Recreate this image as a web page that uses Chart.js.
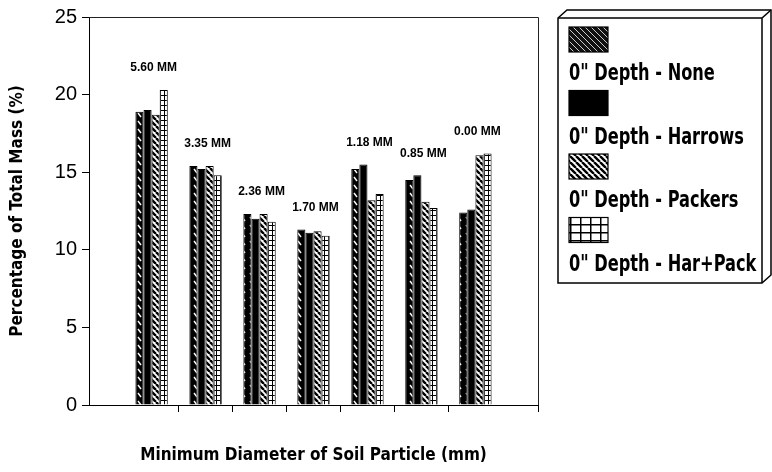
<!DOCTYPE html>
<html lang="en">
<head>
  <meta charset="UTF-8">
  <title>Soil Particle Size Distribution</title>
  <script src="https://cdn.jsdelivr.net/npm/chart.js"></script>
  <style>
    body { margin: 0; background: #fff; }
    #wrap { width: 772px; height: 472px; }
  </style>
</head>
<body>
  <div id="wrap"><canvas id="myChart" width="772" height="472"></canvas></div>
  <script>
    // Chart data
    const categories = ['5.60 MM', '3.35 MM', '2.36 MM', '1.70 MM', '1.18 MM', '0.85 MM', '0.00 MM'];
    const seriesNames = ['0" Depth - None', '0" Depth - Harrows', '0" Depth - Packers', '0" Depth - Har+Pack'];
    const noneVals = [18.9, 15.4, 12.3, 11.3, 15.2, 14.5, 12.4];
    const harrowsVals = [19.0, 15.2, 12.0, 11.1, 15.5, 14.8, 12.6];
    const packersVals = [18.7, 15.4, 12.3, 11.2, 13.2, 13.1, 16.1];
    const harPackVals = [20.3, 14.8, 11.8, 10.9, 13.6, 12.7, 16.2];
    const yTicks = [0, 5, 10, 15, 20, 25];

    const condensed = '"DejaVu Sans Condensed", "DejaVu Sans", sans-serif';

    // small helper to build a fill pattern from a tile
    function makePattern(w, h, draw) {
      const c = document.createElement('canvas');
      c.width = w;
      c.height = h;
      const g = c.getContext('2d');
      draw(g, w, h);
      return g.createPattern(c, 'repeat');
    }

    // hatched dark (bars): black with short white dashes
    const nonePattern = makePattern(8, 8, (g, w, h) => {
      g.fillStyle = '#000';
      g.fillRect(0, 0, w, h);
      g.strokeStyle = '#fff';
      g.lineWidth = 1.4;
      g.beginPath();
      g.moveTo(2, 1);
      g.lineTo(5, 5);
      g.stroke();
    });
    // legend version: thin light diagonals
    const noneLegendPattern = makePattern(6, 6, (g, w, h) => {
      g.fillStyle = '#111';
      g.fillRect(0, 0, w, h);
      g.strokeStyle = '#ccc';
      g.lineWidth = 1;
      g.beginPath();
      for (let o = -6; o <= 6; o += 6) {
        g.moveTo(o, 0);
        g.lineTo(o + 6, 6);
      }
      g.stroke();
    });
    const stripePattern = makePattern(6, 6, (g, w, h) => {
      g.fillStyle = '#fff';
      g.fillRect(0, 0, w, h);
      g.strokeStyle = '#000';
      g.lineWidth = 2.4;
      g.beginPath();
      for (let o = -6; o <= 6; o += 6) {
        g.moveTo(o, 0);
        g.lineTo(o + 6, 6);
      }
      g.stroke();
    });
    const gridPattern = makePattern(4, 5, (g, w, h) => {
      g.fillStyle = '#fff';
      g.fillRect(0, 0, w, h);
      g.fillStyle = '#000';
      g.fillRect(0, 0, w, 1);
      g.fillRect(0, 0, 1, h);
    });
    const gridLegendPattern = makePattern(10, 8, (g, w, h) => {
      g.fillStyle = '#fff';
      g.fillRect(0, 0, w, h);
      g.fillStyle = '#000';
      g.fillRect(0, 0, w, 1.5);
      g.fillRect(0, 0, 1.5, h);
    });

    const barFills = [nonePattern, '#000', stripePattern, gridPattern];
    const legendFills = [noneLegendPattern, '#000', stripePattern, gridLegendPattern];
    const allVals = [noneVals, harrowsVals, packersVals, harPackVals];

    // labels like "5.60 MM" above each group
    const groupLabels = {
      id: 'groupLabels',
      afterDatasetsDraw(chart) {
        const {ctx, scales: {x, y}} = chart;
        ctx.save();
        ctx.font = 'bold 12px "Liberation Sans", Arial, sans-serif';
        ctx.fillStyle = '#000';
        ctx.textAlign = 'center';
        ctx.textBaseline = 'middle';
        categories.forEach((cat, i) => {
          const top = Math.max(...allVals.map(v => v[i]));
          ctx.fillText(cat, x.getPixelForValue(i) + 2, y.getPixelForValue(top) - 22);
        });
        ctx.restore();
      }
    };

    // top / right frame of the plot area
    const frame = {
      id: 'frame',
      afterDraw(chart) {
        const {ctx, chartArea: a} = chart;
        ctx.save();
        ctx.strokeStyle = '#222';
        ctx.lineWidth = 1;
        ctx.beginPath();
        ctx.moveTo(a.left, a.top + 0.5);
        ctx.lineTo(a.right + 0.5, a.top + 0.5);
        ctx.lineTo(a.right + 0.5, a.bottom);
        ctx.stroke();
        ctx.restore();
      }
    };

    // boxed legend with a little 3D edge, text under each swatch
    const boxLegend = {
      id: 'boxLegend',
      afterDraw(chart) {
        const ctx = chart.ctx;
        const L = 558, T = 18, R = 762, B = 283, d = 9;
        ctx.save();
        ctx.strokeStyle = '#000';
        ctx.lineWidth = 1.5;
        ctx.fillStyle = '#fff';
        ctx.beginPath();
        ctx.moveTo(L, T);
        ctx.lineTo(L + d, T - d + 1);
        ctx.lineTo(R + d, T - d + 1);
        ctx.lineTo(R + d, B - d + 1);
        ctx.lineTo(R, B);
        ctx.lineTo(L, B);
        ctx.closePath();
        ctx.fill();
        ctx.stroke();
        ctx.beginPath();
        ctx.moveTo(L, T);
        ctx.lineTo(R, T);
        ctx.lineTo(R + d, T - d + 1);
        ctx.moveTo(R, T);
        ctx.lineTo(R, B);
        ctx.stroke();

        ctx.font = 'bold 18px ' + condensed;
        ctx.textBaseline = 'alphabetic';
        ctx.textAlign = 'left';
        seriesNames.forEach((name, i) => {
          const sy = 27 + i * 63.5;
          ctx.fillStyle = legendFills[i];
          ctx.fillRect(569, sy, 39, 25);
          ctx.lineWidth = 1.2;
          ctx.strokeRect(569, sy, 39, 25);
          ctx.fillStyle = '#000';
          // the printed legend uses a tall, narrow face: stretch vertically
          ctx.save();
          ctx.translate(569, sy + 53);
          ctx.scale(1, 1.3);
          ctx.fillText(name, 0, 0);
          ctx.restore();
        });
        ctx.restore();
      }
    };

    const ctx = document.getElementById('myChart').getContext('2d');

    const myChart = new Chart(ctx, {
      type: 'bar',
      data: {
        datasets: seriesNames.map((name, i) => ({
          label: name,
          data: allVals[i].map((v, j) => ({x: j, y: v})),
          backgroundColor: barFills[i],
          borderColor: '#000',
          borderWidth: 1,
          categoryPercentage: 0.6,
          barPercentage: 1.0,
        })),
      },
      options: {
        responsive: false,
        animation: false,
        layout: {
          padding: {left: 0, top: 16, right: 234, bottom: 0},
        },
        plugins: {
          legend: {display: false},
          tooltip: {enabled: false},
        },
        scales: {
          x: {
            type: 'linear',
            min: -1.16,
            max: 7.16,
            offset: false,
            afterBuildTicks: (scale) => {
              scale.ticks = [0.5, 1.5, 2.5, 3.5, 4.5, 5.5, 7.16].map(v => ({value: v}));
            },
            afterFit: (scale) => { scale.height = 67; },
            ticks: {display: false},
            grid: {
              drawOnChartArea: false,
              drawTicks: true,
              tickLength: 7,
              color: '#000',
              offset: false,
            },
            border: {color: '#000', width: 1},
            title: {
              display: true,
              text: 'Minimum Diameter of Soil Particle (mm)',
              color: '#000',
              font: {family: condensed, size: 17, weight: 'bold'},
              padding: {top: 0, bottom: 6},
            },
          },
          y: {
            min: 0,
            max: 25,
            afterBuildTicks: (scale) => {
              scale.ticks = yTicks.map(v => ({value: v}));
            },
            afterFit: (scale) => { scale.width = 89; },
            ticks: {
              color: '#000',
              padding: 5,
              font: {family: '"Liberation Sans", Arial, sans-serif', size: 20},
            },
            grid: {
              drawOnChartArea: false,
              drawTicks: true,
              tickLength: 7,
              color: '#000',
            },
            border: {color: '#000', width: 1},
            title: {
              display: true,
              text: 'Percentage of Total Mass (%)',
              color: '#000',
              font: {family: condensed, size: 17, weight: 'bold'},
              padding: {top: 7, bottom: 0},
            },
          },
        },
      },
      plugins: [groupLabels, frame, boxLegend],
    });
  </script>
</body>
</html>
